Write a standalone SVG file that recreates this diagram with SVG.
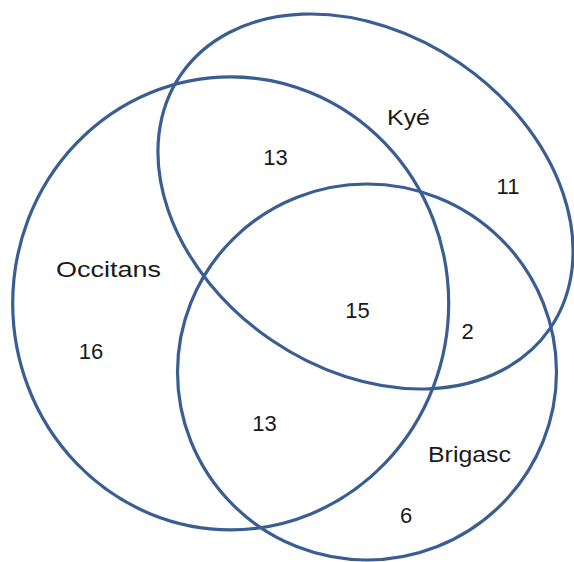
<svg xmlns="http://www.w3.org/2000/svg" width="574" height="562" viewBox="0 0 574 562">
<style>
.set{fill:none;stroke:#3A5E91;stroke-width:3.2}
text{font-family:"Liberation Sans",Arial,sans-serif;font-size:22px;fill:#1a1a1a;text-anchor:middle}
</style>
<rect width="574" height="562" fill="#ffffff"/>
<g id="occitans">
<ellipse class="set" cx="230.7" cy="303.3" rx="218" ry="226.5"/>
<text x="108.5" y="277" textLength="105" lengthAdjust="spacingAndGlyphs">Occitans</text>
</g>
<g id="kye">
<ellipse class="set" cx="365.5" cy="201.5" rx="224" ry="167.5" transform="rotate(34.5 365.5 201.5)"/>
<text x="408.5" y="125" textLength="43" lengthAdjust="spacingAndGlyphs">Kyé</text>
</g>
<g id="brigasc">
<ellipse class="set" cx="367" cy="372" rx="189.5" ry="188"/>
<text x="469.5" y="462" textLength="83" lengthAdjust="spacingAndGlyphs">Brigasc</text>
</g>
<g id="counts">
<text x="275.5" y="165">13</text>
<text x="508" y="194">11</text>
<text x="357.5" y="318">15</text>
<text x="467.5" y="339">2</text>
<text x="91" y="359">16</text>
<text x="264.5" y="431">13</text>
<text x="406" y="523">6</text>
</g>
</svg>
